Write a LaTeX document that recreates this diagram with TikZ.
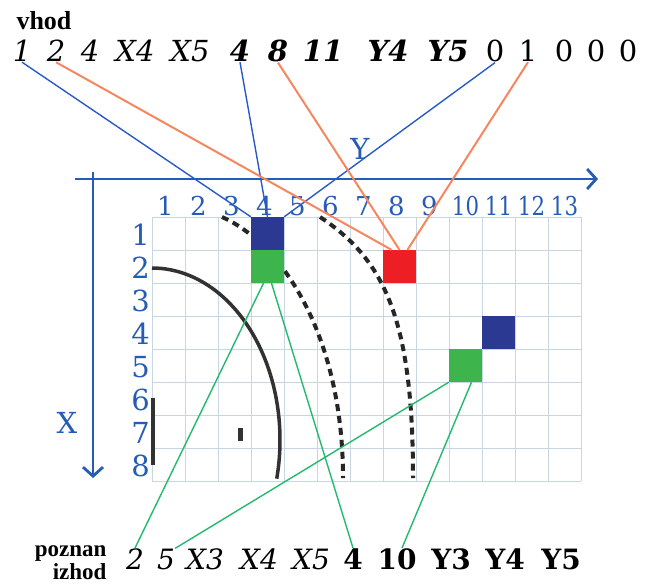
\documentclass[tikz,border=0pt]{standalone}
\usepackage{fontspec}
\setmainfont{DejaVu Serif}
\newfontfamily\timesfont{Liberation Serif}
\usepackage{xcolor}
\definecolor{axisblue}{RGB}{38,92,180}
\definecolor{sqblue}{RGB}{43,57,146}
\definecolor{sqgreen}{RGB}{62,180,76}
\definecolor{sqred}{RGB}{237,30,36}
\definecolor{lineblue}{RGB}{40,90,200}
\definecolor{lineorange}{RGB}{245,135,95}
\definecolor{linegreen}{RGB}{35,185,110}
\definecolor{gridgray}{RGB}{200,214,228}
\definecolor{arcgray}{RGB}{50,50,50}
\usetikzlibrary{arrows.meta,calc}
\tikzset{
  gridline/.style={draw=gridgray, line width=0.9pt},
  cellsq/.style={minimum size=33pt, inner sep=0pt, draw=none},
  axis/.style={draw=axisblue, line width=2.8pt,
    -{Straight Barb[length=9pt,width=20pt,line width=2.8pt]}},
  axislabel/.style={text=axisblue, font=\fontsize{29}{29}\selectfont},
  collabel/.style={text=axisblue, inner sep=0pt, font=\fontsize{26}{26}\selectfont},
  rowlabel/.style={text=axisblue, inner sep=0pt, anchor=east, font=\fontsize{29}{29}\selectfont},
  wall/.style={draw=arcgray, line width=3.5pt},
  dashedarc/.style={draw=black!85, line width=4pt, dash pattern=on 7pt off 5pt},
  innum/.style={anchor=base, inner sep=0pt, font=\fontsize{29}{29}\selectfont},
  outnum/.style={anchor=base, inner sep=0pt, font=\fontsize{28}{28}\selectfont},
  heading/.style={font=\timesfont\bfseries\fontsize{26}{26}\selectfont},
  bline/.style={draw=lineblue, line width=1.4pt},
  oline/.style={draw=lineorange, line width=2pt},
  gline/.style={draw=linegreen, line width=1.4pt},
}

\begin{document}
\begin{tikzpicture}[x=1pt,y=-1pt]
\useasboundingbox (0,0) rectangle (650,586);

% grid
\foreach \c in {0,...,13}
  \draw[gridline] (152+33*\c,217) -- (152+33*\c,481);
\foreach \r in {0,...,8}
  \draw[gridline] (152,217+33*\r) -- (581,217+33*\r);

% axes
\coordinate (yfrom) at (75,179);
\coordinate (yto) at (598,179);
\coordinate (xfrom) at (93,172);
\coordinate (xto) at (93,478);
\draw[axis] (yfrom) -- (yto);
\draw[axis] (xfrom) -- (xto);
\node[axislabel] (ylab) at (360,149) {Y};
\node[axislabel] (xlab) at (67,423) {X};

% labels of columns and rows
\foreach \c in {1,...,9}
  \node[collabel] (col\c) at (132.5+33*\c,206) {\c};
\foreach \c in {10,...,13}
  \node[collabel, xscale=0.82] (col\c) at (135.5+33*\c,206) {\c};
\foreach \r in {1,...,8}
  \node[rowlabel] (row\r) at (150,202+33*\r) {\r};

% walls
\draw[wall] (152,268) arc[start angle=-90, end angle=13, x radius=128, y radius=172];
\draw[wall] (153,398) -- (153,465);
\fill[arcgray] (238,428) rectangle (243,441);
\draw[dashedarc] (222,217) .. controls (285,245) and (343,340) .. (343,478);
\draw[dashedarc] (320,217) .. controls (385,260) and (413,320) .. (413,478);

% cells
\node[cellsq, fill=sqblue] (sq14) at (267.5,233.5) {};
\node[cellsq, fill=sqgreen] (sq24) at (267.5,266.5) {};
\node[cellsq, fill=sqred] (sq28) at (399.5,266.5) {};
\node[cellsq, fill=sqblue] (sq411) at (498.5,332.5) {};
\node[cellsq, fill=sqgreen] (sq510) at (465.5,365.5) {};

% input
\node[heading, anchor=base west] (vhod) at (13,30) {vhod};
\node[innum, font=\fontsize{29}{29}\selectfont\itshape] (vin1) at (22,62) {1};
\node[innum, font=\fontsize{29}{29}\selectfont\itshape] (vin2) at (56,62) {2};
\node[innum, font=\fontsize{29}{29}\selectfont\itshape] (vin3) at (90,62) {4};
\node[innum, font=\fontsize{29}{29}\selectfont\itshape] (vin4) at (135,62) {X4};
\node[innum, font=\fontsize{29}{29}\selectfont\itshape] (vin5) at (190,62) {X5};
\node[innum, font=\fontsize{29}{29}\selectfont\bfseries\itshape] (vin6) at (240,62) {4};
\node[innum, font=\fontsize{29}{29}\selectfont\bfseries\itshape] (vin7) at (278,62) {8};
\node[innum, font=\fontsize{29}{29}\selectfont\bfseries\itshape] (vin8) at (323,62) {11};
\node[innum, font=\fontsize{29}{29}\selectfont\bfseries\itshape] (vin9) at (388,62) {Y4};
\node[innum, font=\fontsize{29}{29}\selectfont\bfseries\itshape] (vin10) at (448,62) {Y5};
\node[innum] (vin11) at (495,62) {0};
\node[innum] (vin12) at (528,62) {1};
\node[innum] (vin13) at (564,62) {0};
\node[innum] (vin14) at (596,62) {0};
\node[innum] (vin15) at (628,62) {0};

% output
\node[heading, font=\timesfont\bfseries\fontsize{23}{23}\selectfont, align=right,
      anchor=east] (izhod) at (110,563) {poznan\\izhod};
\node[outnum, font=\fontsize{28}{28}\selectfont\itshape] (out1) at (135,569) {2};
\node[outnum, font=\fontsize{28}{28}\selectfont\itshape] (out2) at (166,569) {5};
\node[outnum, font=\fontsize{28}{28}\selectfont\itshape] (out3) at (205,569) {X3};
\node[outnum, font=\fontsize{28}{28}\selectfont\itshape] (out4) at (259,569) {X4};
\node[outnum, font=\fontsize{28}{28}\selectfont\itshape] (out5) at (311,569) {X5};
\node[outnum, font=\fontsize{28}{28}\selectfont\bfseries] (out6) at (353,569) {4};
\node[outnum, font=\fontsize{28}{28}\selectfont\bfseries] (out7) at (397,569) {10};
\node[outnum, font=\fontsize{28}{28}\selectfont\bfseries] (out8) at (451,569) {Y3};
\node[outnum, font=\fontsize{28}{28}\selectfont\bfseries] (out9) at (505,569) {Y4};
\node[outnum, font=\fontsize{28}{28}\selectfont\bfseries] (out10) at (561,569) {Y5};

% connections
\draw[bline] (vin1.south) -- (sq14.north west);
\draw[bline] (vin6.south) -- (sq14.north);
\draw[bline] (vin11.south) -- (sq14.north east);
\draw[oline] (vin2.south) -- ($(sq28.north)+(-8,0)$);
\draw[oline] (vin7.south) -- (sq28.north);
\draw[oline] (vin12.south) -- ($(sq28.north)+(8,0)$);
\draw[gline] (out1.north) -- ($(sq24.south)+(-4,0)$);
\draw[gline] (out6.north) -- ($(sq24.south)+(4,0)$);
\draw[gline] (out2.north east) -- (sq510.south west);
\draw[gline] ($(out7.north)+(5,0)$) -- ($(sq510.south)+(6,0)$);
\end{tikzpicture}
\end{document}
